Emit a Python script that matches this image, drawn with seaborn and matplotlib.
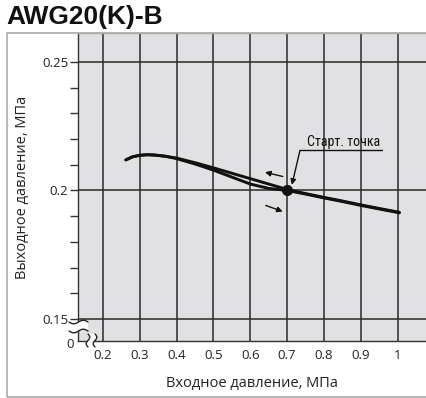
import numpy as np
import pandas as pd
import matplotlib
matplotlib.use("Agg")
import matplotlib.pyplot as plt
from matplotlib.patches import Rectangle
import seaborn as sns

# Outlet pressure vs inlet pressure, AWG20(K)-B
title = "AWG20(K)-B"
x_label = "Входное давление, МПа"
y_label = "Выходное давление, МПа"
start_label = "Старт. точка"

# inlet pressure falling from 1.0 MPa (upper branch)
inlet_down = [1.005, 0.95, 0.9, 0.85, 0.8, 0.75, 0.7, 0.65, 0.6, 0.55, 0.5, 0.45, 0.4, 0.37, 0.34, 0.32, 0.30, 0.28, 0.262]
outlet_down = [0.1915, 0.1930, 0.1944, 0.1959, 0.1973, 0.1988, 0.2004, 0.2025, 0.2046, 0.2067, 0.2088, 0.2108, 0.2126, 0.2133, 0.2138, 0.2139, 0.2137, 0.2131, 0.2119]
# inlet pressure rising back (lower branch)
inlet_up = [0.262, 0.28, 0.30, 0.32, 0.34, 0.37, 0.4, 0.45, 0.5, 0.55, 0.6, 0.65, 0.7, 0.75, 0.8, 0.85, 0.9, 0.95, 1.005]
outlet_up = [0.2119, 0.2131, 0.2137, 0.2139, 0.2138, 0.2133, 0.2124, 0.2103, 0.2079, 0.2052, 0.2025, 0.2008, 0.2000, 0.1986, 0.1971, 0.1957, 0.1942, 0.1928, 0.1913]
start_point = (0.7, 0.2)

x_ticks = [0.2, 0.3, 0.4, 0.5, 0.6, 0.7, 0.8, 0.9, 1.0]
x_tick_labels = ["0.2", "0.3", "0.4", "0.5", "0.6", "0.7", "0.8", "0.9", "1"]
y_ticks = [0.15, 0.2, 0.25]
y_tick_labels = ["0.15", "0.2", "0.25"]
y_minor = [0.16, 0.17, 0.18, 0.19, 0.21, 0.22, 0.23, 0.24]

sns.set_theme(style="white")
plt.rcParams["font.family"] = ["Open Sans", "DejaVu Sans"]

W, H = 427, 398
fig = plt.figure(figsize=(W / 100, H / 100), dpi=100)


def fx(px):
    return px / W


def fy(py):
    return 1 - py / H


ax = fig.add_axes([fx(78), fy(341), fx(427) - fx(78), fy(33) - fy(341)])
ax.set_facecolor("#e1e1e3")

df_down = pd.DataFrame({"inlet": inlet_down, "outlet": outlet_down})
df_up = pd.DataFrame({"inlet": inlet_up, "outlet": outlet_up})
sns.lineplot(data=df_down, x="inlet", y="outlet", sort=False, estimator=None,
             color="#111111", lw=2.1, ax=ax, zorder=4)
sns.lineplot(data=df_up, x="inlet", y="outlet", sort=False, estimator=None,
             color="#111111", lw=2.1, ax=ax, zorder=4)
ax.plot(*start_point, "o", color="#111111", ms=7, zorder=5)

ax.set_xlim(0.132, 1.08)
ax.set_ylim(0.1414, 0.2613)
ax.set_xticks(x_ticks)
ax.set_xticklabels(x_tick_labels)
ax.set_yticks(y_ticks)
ax.set_yticklabels(y_tick_labels)
ax.set_yticks(y_minor, minor=True)
ax.tick_params(axis="x", length=0, pad=6, labelsize=9.5, colors="#222222")
ax.tick_params(axis="y", which="both", direction="out", length=6, width=1,
               color="#333333", pad=1, labelsize=9.5, labelcolor="#222222", left=True)
ax.grid(True, which="major", color="#2a2a2a", lw=1.1)
ax.set_axisbelow(True)
for side, sp in ax.spines.items():
    sp.set_color("#333333")
    sp.set_linewidth(1.0)
ax.spines["right"].set_visible(False)
ax.spines["top"].set_color("#aaaaaa")

ax.set_xlabel(x_label, fontsize=10.5, color="#222222", labelpad=10)
ax.set_ylabel(y_label, fontsize=10.5, color="#222222", labelpad=9)

# direction arrows
ax.annotate("", xy=(0.640, 0.2071), xytext=(0.688, 0.20545),
            arrowprops=dict(arrowstyle="-|>", color="#111111", lw=1.0,
                            mutation_scale=8, shrinkA=0, shrinkB=0))
ax.annotate("", xy=(0.688, 0.19183), xytext=(0.642, 0.19416),
            arrowprops=dict(arrowstyle="-|>", color="#111111", lw=1.0,
                            mutation_scale=8, shrinkA=0, shrinkB=0))

# start point callout
ax.annotate("", xy=(0.713, 0.2022), xytext=(0.735, 0.2156),
            arrowprops=dict(arrowstyle="-|>", color="#111111", lw=1.0,
                            mutation_scale=8, shrinkA=0, shrinkB=0))
ax.plot([0.735, 0.958], [0.2156, 0.2156], color="#111111", lw=1.0, zorder=5)
ax.text(0.852, 0.2161, start_label, ha="center", va="bottom", fontsize=10,
        family=["Roboto Condensed", "Liberation Sans Narrow", "Roboto", "DejaVu Sans"],
        color="#111111", zorder=6)

# outer frame
fig.patches.append(Rectangle((fx(7), fy(397)), fx(440) - fx(7), fy(33) - fy(397),
                             transform=fig.transFigure, fill=False,
                             edgecolor="#aaaaaa", lw=1.2, zorder=0))

fig.text(fx(6), fy(17), title, ha="left", va="center", fontsize=19,
         fontweight="bold", family="Liberation Sans", color="#111111")

# axis break marks
t = np.linspace(0, 1, 40)
wave = 1.8 * np.sin(2 * np.pi * t)
xs = 69 + 19 * t
fig.patches.append(plt.Polygon(np.column_stack([fx(np.r_[xs, xs[::-1]]),
                                                fy(np.r_[322 + wave, (331 + wave)[::-1]])]),
                               transform=fig.transFigure, facecolor="white",
                               edgecolor="none", zorder=9))
for y0 in (322, 331):
    fig.lines.append(plt.Line2D(fx(xs), fy(y0 + wave), transform=fig.transFigure,
                                color="#222222", lw=1.0, zorder=10))
ys = 334 + 13 * t
fig.patches.append(plt.Polygon(np.column_stack([fx(np.r_[88 + wave, (95 + wave)[::-1]]),
                                                fy(np.r_[ys, ys[::-1]])]),
                               transform=fig.transFigure, facecolor="white",
                               edgecolor="none", zorder=9))
for x0 in (88, 95):
    fig.lines.append(plt.Line2D(fx(x0 + wave), fy(ys), transform=fig.transFigure,
                                color="#222222", lw=1.0, zorder=10))
fig.text(fx(70), fy(345), "0", ha="center", va="center", fontsize=9.5, color="#222222")

fig.savefig("out.png", dpi=100)
